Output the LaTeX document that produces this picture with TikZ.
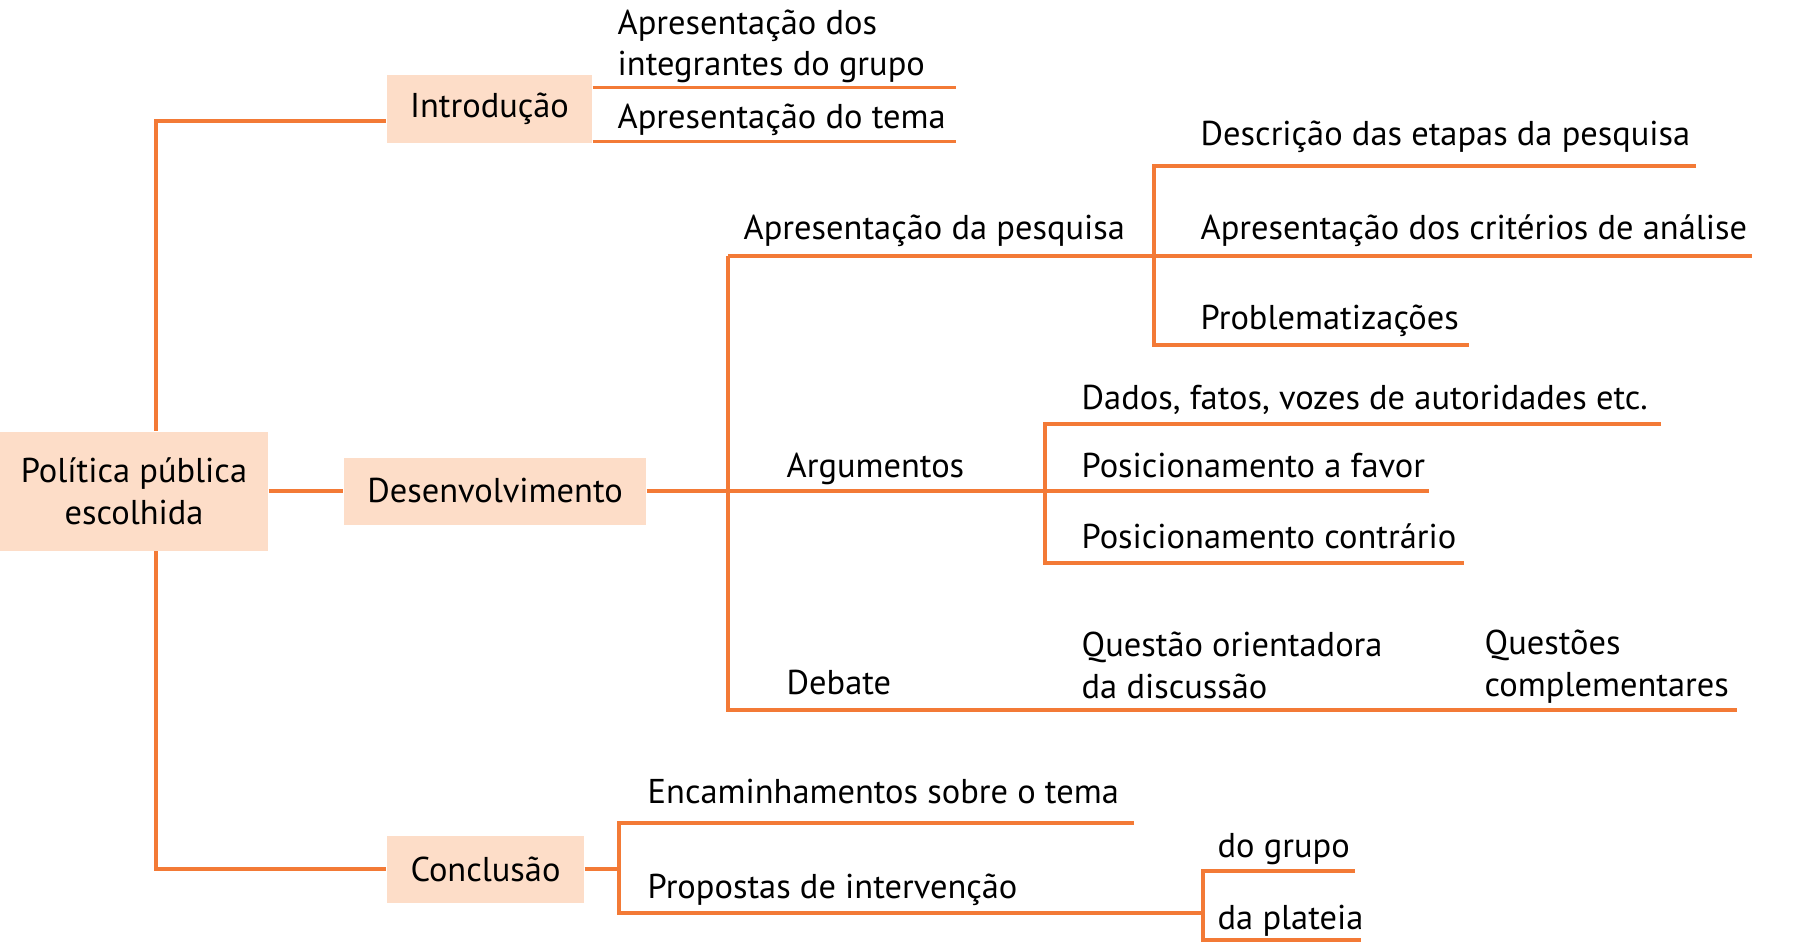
\documentclass[tikz,border=0pt]{standalone}
\usepackage{fontspec}
\setmainfont{PT Sans}
\usetikzlibrary{positioning, calc}
\definecolor{laranja}{HTML}{F37A36}
\definecolor{pessego}{HTML}{FDDDC8}

\begin{document}
\begin{tikzpicture}[box/.style={rectangle,fill=pessego,inner sep=0pt,align=center},
  leaf/.style={anchor=base west,inner sep=0pt,align=left},
  ramo/.style={-, laranja, line width=0.33mm},
  font=\fontsize{9.8pt}{11.95pt}\selectfont]
\useasboundingbox (0,0) rectangle (18,-9.44);
\node (root) [box, minimum width=2.68cm, minimum height=1.19cm] at (1.34,-4.91) {Política pública\\escolhida};
\node (intro) [box, minimum width=2.05cm, minimum height=0.68cm] at (4.895,-1.09) {Introdução};
\node (desenv) [box, minimum width=3.02cm, minimum height=0.67cm] at (4.95,-4.91) {Desenvolvimento};
\node (concl) [box, minimum width=1.97cm, minimum height=0.67cm] at (4.855,-8.69) {Conclusão};

\node (integ) [leaf] at (6.17,-0.76) {Apresentação dos\\integrantes do grupo};
\node (tema) [leaf] at (6.17,-1.28) {Apresentação do tema};
\node (pesq) [leaf] at (7.43,-2.39) {Apresentação da pesquisa};
\node (etapas) [leaf] at (12.00,-1.46) {Descrição das etapas da pesquisa};
\node (criter) [leaf] at (12.00,-2.39) {Apresentação dos critérios de análise};
\node (probl) [leaf] at (12.00,-3.29) {Problematizações};
\node (argum) [leaf] at (7.86,-4.77) {Argumentos};
\node (dados) [leaf] at (10.81,-4.09) {Dados, fatos, vozes de autoridades etc.};
\node (favor) [leaf] at (10.81,-4.77) {Posicionamento a favor};
\node (contra) [leaf] at (10.81,-5.48) {Posicionamento contrário};
\node (debate) [leaf] at (7.86,-6.94) {Debate};
\node (questao) [leaf] at (10.81,-6.98) {Questão orientadora\\da discussão};
\node (compl) [leaf] at (14.84,-6.96) {Questões\\complementares};
\node (encam) [leaf] at (6.47,-8.03) {Encaminhamentos sobre o tema};
\node (propos) [leaf] at (6.47,-8.98) {Propostas de intervenção};
\node (grupo) [leaf] at (12.17,-8.57) {do grupo};
\node (plateia) [leaf] at (12.17,-9.29) {da plateia};

\coordinate (kI) at (1.56,-1.21);
\coordinate (kC) at (1.56,-8.69);
\coordinate (kD) at (7.28,-4.91);
\coordinate (kP) at (11.54,-2.56);
\coordinate (kA) at (10.45,-4.91);
\coordinate (kF) at (6.19,-8.69);
\coordinate (kG) at (12.03,-9.13);
  \begin{scope}
    \draw [ramo] (root.north -| kI) -- (kI) -- (kI -| intro.west);
    \draw [ramo] (root.south -| kC) -- (kC) -- (concl.west);
    \draw [ramo] (root.east) -- (desenv.west);
    \draw [ramo] ($(intro.north east)+(0,-0.13)$) -- ($(intro.north east)+(3.63,-0.13)$);
    \draw [ramo] ($(intro.south east)+(0,0.02)$) -- ($(intro.south east)+(3.63,0.02)$);
    % desenvolvimento
    \draw [ramo] (desenv.east) -- (kD);
    \draw [ramo] (kD |- 0,-2.56) -- (kD |- 0,-7.10) -- (17.37,-7.10);
    \draw [ramo] (kD |- kP) -- (17.52,-2.56);
    \draw [ramo] (16.96,-1.66) -- (kP |- 0,-1.66) -- (kP |- 0,-3.45) -- (14.69,-3.45);
    \draw [ramo] (kD) -- (14.29,-4.91);
    \draw [ramo] (16.61,-4.24) -- (kA |- 0,-4.24) -- (kA |- 0,-5.63) -- (14.64,-5.63);
    % conclusao
    \draw [ramo] (concl.east |- kF) -- (kF);
    \draw [ramo] (11.34,-8.23) -- (kF |- 0,-8.23) -- (kF |- 0,-9.13) -- (kG);
    \draw [ramo] (13.55,-8.71) -- (kG |- 0,-8.71) -- (kG |- 0,-9.40) -- (13.61,-9.40);
  \end{scope}
\end{tikzpicture}
\end{document}
